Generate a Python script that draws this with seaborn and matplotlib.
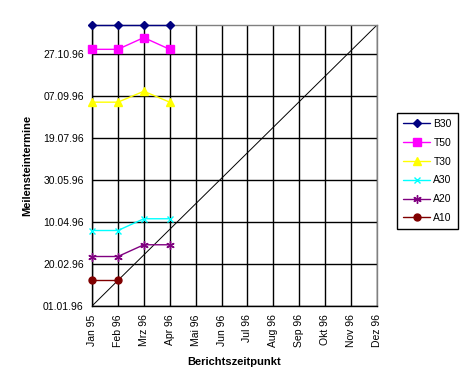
import pandas as pd
import numpy as np
import seaborn as sns
import matplotlib
matplotlib.use("Agg")
import matplotlib.pyplot as plt
import matplotlib.dates as mdates

# Report months (x axis categories)
months = ["Jan 95", "Feb 96", "Mrz 96", "Apr 96", "Mai 96", "Jun 96",
          "Jul 96", "Aug 96", "Sep 96", "Okt 96", "Nov 96", "Dez 96"]

# Milestone dates per report
b30 = ["01.12.96", "01.12.96", "01.12.96", "01.12.96"]
t50 = ["02.11.96", "02.11.96", "16.11.96", "02.11.96"]
t30 = ["31.08.96", "31.08.96", "13.09.96", "31.08.96"]
a30 = ["31.03.96", "31.03.96", "14.04.96", "14.04.96"]
a20 = ["29.02.96", "29.02.96", "14.03.96", "14.03.96"]
a10 = ["01.02.96", "01.02.96"]

series_names = ["B30", "T50", "T30", "A30", "A20", "A10"]
series_values = [b30, t50, t30, a30, a20, a10]
colors = ["#000080", "#FF00FF", "#FFFF00", "#00FFFF", "#800080", "#800000"]
markers = ["D", "s", "^", "x", (6, 2, 0), "o"]
msizes = [4.5, 5.5, 6, 5, 6, 5]

# y axis: 01.01.96 in steps of 50 days, up to 01.12.96
y_start = "01.01.96"
y_end = "01.12.96"
y_step_days = 50

# Build a long table for seaborn
rows = []
for name, vals in zip(series_names, series_values):
    for i, v in enumerate(vals):
        d = pd.to_datetime(v, format="%d.%m.%y")
        rows.append({"Bericht": i, "Termin": mdates.date2num(d), "Meilenstein": name})
df = pd.DataFrame(rows)

sns.set_style("white")
plt.rcParams["font.family"] = ["Liberation Sans", "DejaVu Sans"]
plt.rcParams["text.color"] = "black"
plt.rcParams["axes.labelcolor"] = "black"
plt.rcParams["xtick.color"] = "black"
plt.rcParams["ytick.color"] = "black"

fig = plt.figure(figsize=(4.65, 3.91), dpi=100)
ax = fig.add_axes([92 / 465, 85 / 391, 285 / 465, 281 / 391])

ystart = mdates.date2num(pd.to_datetime(y_start, format="%d.%m.%y"))
yend = mdates.date2num(pd.to_datetime(y_end, format="%d.%m.%y"))

# Diagonal: report date equals milestone date
ax.plot([0, len(months) - 1], [ystart, yend], color="black", lw=0.7, zorder=2)

# One lineplot per milestone (filled and line markers can't be mixed in one call)
for name, col, mk, ms in zip(series_names, colors, markers, msizes):
    sub = df[df["Meilenstein"] == name]
    sns.lineplot(data=sub, x="Bericht", y="Termin", color=col, marker=mk,
                 markersize=ms, markeredgecolor=col, markerfacecolor=col,
                 markeredgewidth=1.0, lw=1.0, label=name, ax=ax, zorder=3,
                 clip_on=False)

# Axis setup
ax.set_xlim(0, len(months) - 1)
ax.set_ylim(ystart, yend)
ax.set_xticks(range(len(months)))
ax.set_xticklabels(months, rotation=90, fontsize=7.5)
yticks = ystart + np.arange(0, 7) * y_step_days
ax.set_yticks(yticks)
ax.set_yticklabels([mdates.num2date(t).strftime("%d.%m.%y") for t in yticks], fontsize=7.5)
ax.tick_params(direction="out", length=4, width=1, color="black", pad=2)

ax.grid(True, color="black", lw=1)
ax.set_axisbelow(True)
for s in ["left", "bottom"]:
    ax.spines[s].set_color("black")
    ax.spines[s].set_linewidth(1)
for s in ["top", "right"]:
    ax.spines[s].set_color("#808080")
    ax.spines[s].set_linewidth(1)

ax.set_xlabel("Berichtszeitpunkt", fontsize=8, fontweight="bold", labelpad=7)
ax.set_ylabel("Meilensteintermine", fontsize=8, fontweight="bold", labelpad=8)

# Legend on the right
handles, labels = ax.get_legend_handles_labels()
ax.legend(handles, labels, loc="center left", bbox_to_anchor=(397 / 465, 220 / 391),
          bbox_transform=fig.transFigure, fontsize=7.5, frameon=True, fancybox=False,
          edgecolor="black", framealpha=1, handlelength=2.6, labelspacing=0.85,
          borderpad=0.6, handletextpad=0.3, borderaxespad=0)
ax.get_legend().get_frame().set_linewidth(1)

plt.savefig("out.png", dpi=100)
